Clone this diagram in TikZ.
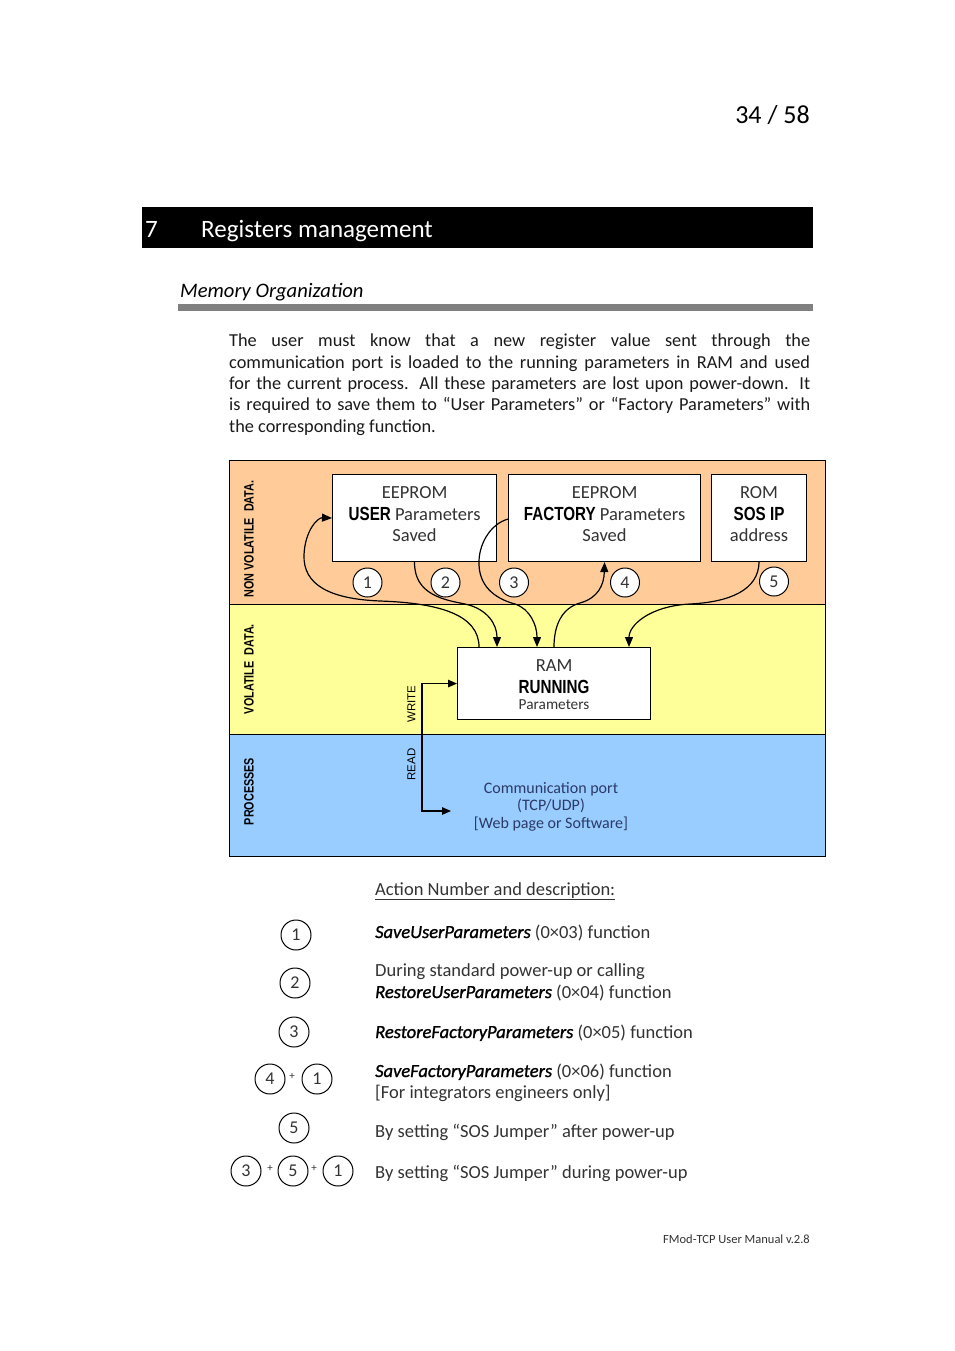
\documentclass[tikz,border=0pt]{standalone}
\usepackage{fontspec}
\setmainfont{Carlito}
\newfontfamily\nbfont{Liberation Sans}[FakeStretch=0.8]
\newfontfamily\arfont{Liberation Sans}
\newfontfamily\itbfont{Carlito}[FakeBold=1.2]
\usetikzlibrary{arrows.meta,calc}
\definecolor{bandorange}{HTML}{FFCC99}
\definecolor{bandyellow}{HTML}{FFFF99}
\definecolor{bandblue}{HTML}{99CCFF}
\definecolor{rulegray}{HTML}{808080}
\definecolor{txt}{HTML}{1A1A1A}
\definecolor{boxtxt}{HTML}{333333}
\definecolor{navy}{HTML}{2B3A67}
\newcommand\fsz[2]{\fontsize{#1pt}{#2pt}\selectfont}
\newcommand\fname[1]{{\itbfont\itshape\color{black}#1}}
\begin{document}
\begin{tikzpicture}[x=1pt,y=-1pt,
  every node/.style={inner sep=0pt,text=txt},
  memb/.style={draw,fill=white,line width=1.1pt,inner sep=0pt,anchor=north west},
  boxline/.style={anchor=base,text=boxtxt,font={\fsz{18.5}{21}}},
  boldline/.style={anchor=base,text=black,font={\fsz{19}{21}\nbfont\bfseries}},
  numc/.style={circle,draw,fill=white,line width=1pt,minimum size=29pt,inner sep=0pt,text=boxtxt,font={\fsz{18}{20}}},
  legc/.style={numc,minimum size=30pt},
  flow/.style={line width=1.2pt,-{Triangle[length=10pt,width=8pt]}},
  rwflow/.style={line width=1.2pt,{Triangle[length=9pt,width=7.5pt]}-{Triangle[length=9pt,width=7.5pt]}},
  bandlbl/.style={rotate=90,anchor=center,text=black,font={\fsz{13.5}{15}\nbfont\bfseries}},
  rwlbl/.style={rotate=90,anchor=center,text=black,font={\fsz{11.5}{13}\arfont}},
  body/.style={anchor=base west,font={\fsz{18.3}{21.5}}},
  legt/.style={anchor=base west,text=boxtxt,font={\fsz{18.5}{21}}},
  plus/.style={text=boxtxt,font={\fsz{11}{12}}}
]
\useasboundingbox (0,0) rectangle (954,1351);
\fill[white] (0,0) rectangle (954,1351);

% header
\node[anchor=base east,font={\fsz{26}{28}},text=black] (pnum) at (810,124) {34 / 58};
\node[fill=black,minimum width=671pt,minimum height=41pt,anchor=north west] (bar) at (142,207) {};
\node[anchor=base west,text=white,font={\fsz{25}{28}}] (secnum) at (145,237) {7};
\node[anchor=base west,text=white,font={\fsz{25}{28}}] (sectitle) at (201,237) {Registers management};
\node[anchor=base west,text=black,font={\fsz{20.6}{24}\itshape}] (subtitle) at (180,297) {Memory Organization};
\fill[rulegray] (178,304) rectangle (813,311);

% paragraph
\node[body] (p1) at (229,346) {\makebox[581pt][s]{The user must know that a new register value sent through the}};
\node[body] (p2) at (229,368) {\makebox[581pt][s]{communication port is loaded to the running parameters in RAM and used}};
\node[body] (p3) at (229,389) {\makebox[581pt][s]{for the current process. All these parameters are lost upon power-down. It}};
\node[body] (p4) at (229,410) {\makebox[581pt][s]{is required to save them to “User Parameters” or “Factory Parameters” with}};
\node[body] (p5) at (229,432) {the corresponding function.};

% bands
\fill[bandorange] (229,460) rectangle (825,604);
\fill[bandyellow] (229,604) rectangle (825,734);
\fill[bandblue] (229,734) rectangle (825,856);
\draw[line width=1pt] (229,604) -- (825,604);
\draw[line width=1pt] (229,734) -- (825,734);
\draw[line width=1pt] (229,460) rectangle (825,856);

\node[bandlbl] (lblnv) at (249,539) {NON VOLATILE\hspace{3pt} DATA.};
\node[bandlbl] (lblv) at (249,669) {VOLATILE\hspace{3pt} DATA.};
\node[bandlbl] (lblp) at (249,791.5) {PROCESSES};

% memory boxes
\node[memb,minimum width=164pt,minimum height=87pt] (user) at (332,474) {};
\node[memb,minimum width=192pt,minimum height=87pt] (factory) at (508,474) {};
\node[memb,minimum width=95pt,minimum height=87pt] (rom) at (711,474) {};
\node[memb,minimum width=193pt,minimum height=72pt] (ram) at (457,647) {};

\node[boxline] (u1) at ($(user.north)+(0,24)$) {EEPROM};
\node[boxline] (u2) at ($(user.north)+(0,46)$) {{\nbfont\fsz{19}{21}\bfseries\color{black}USER} Parameters};
\node[boxline] (u3) at ($(user.north)+(0,67)$) {Saved};
\node[boxline] (f1) at ($(factory.north)+(0,24)$) {EEPROM};
\node[boxline] (f2) at ($(factory.north)+(0,46)$) {{\nbfont\fsz{19}{21}\bfseries\color{black}FACTORY} Parameters};
\node[boxline] (f3) at ($(factory.north)+(0,67)$) {Saved};
\node[boxline] (r1) at ($(rom.north)+(0,24)$) {ROM};
\node[boldline] (r2) at ($(rom.north)+(0,46)$) {SOS IP};
\node[boxline] (r3) at ($(rom.north)+(0,67)$) {address};
\node[boxline] (m1) at ($(ram.north)+(0,24)$) {RAM};
\node[boldline] (m2) at ($(ram.north)+(0,46)$) {RUNNING};
\node[boxline,font={\fsz{15.3}{17}}] (m3) at ($(ram.north)+(0,62)$) {Parameters};

% flows
\draw[flow] ($(ram.north west)+(22,0)$) .. controls (479,615) and (440,603) .. (380,601)
   .. controls (330,599) and (303,585) .. (304,555)
   .. controls (305,530) and (318,517.5) .. (user.west);
\draw[flow] (user.south) .. controls (414,595) and (445,600) .. (465,604)
   .. controls (488,609) and (497,625) .. ($(ram.north west)+(40,0)$);
\draw[flow] ($(factory.west)+(0,1)$) .. controls (490,524) and (478,545) .. (479,565)
   .. controls (480,590) and (500,600) .. (515,604)
   .. controls (530,609) and (537,625) .. ($(ram.north west)+(80,0)$);
\draw[flow] ($(ram.north west)+(97,0)$) .. controls (554,625) and (562,608) .. (580,603)
   .. controls (598,598) and (604,585) .. (factory.south);
\draw[flow] (rom.south) .. controls (758.5,590) and (730,602) .. (690,604)
   .. controls (650,606) and (629,625) .. ($(ram.north west)+(172,0)$);

% action circles in diagram
\node[numc] (c1) at (367.5,582.5) {1};
\node[numc] (c2) at (445.5,582.5) {2};
\node[numc] (c3) at (514,582.5) {3};
\node[numc] (c4) at (625,582.5) {4};
\node[numc] (c5) at (774,581.5) {5};

% read / write
\coordinate (rdcorner) at (422,811);
\coordinate (readtip) at (451,811);
\draw[rwflow] (readtip) -- (rdcorner) -- (rdcorner |- ram.west) -- (ram.west);
\node[rwlbl] (wlbl) at (411.5,704) {WRITE};
\node[rwlbl] (rlbl) at (411.5,764.5) {READ};

\node[anchor=base,text=navy,font={\fsz{16}{17.5}}] (comm1) at (551,793) {Communication port};
\node[anchor=base,text=navy,font={\fsz{16}{17.5}}] (comm2) at (551,810.5) {(TCP/UDP)};
\node[anchor=base,text=navy,font={\fsz{16}{17.5}}] (comm3) at (551,828) {[Web page or Software]};

% legend
\node[legt] (lhead) at (375,895) {\underline{Action Number and description:}};
\node[legc] (l1) at (296,935) {1};
\node[legt] (t1) at (375,938) {\fname{SaveUserParameters} (0×03) function};
\node[legc] (l2) at (295,983) {2};
\node[legt] (t2a) at (375,976) {During standard power-up or calling};
\node[legt] (t2b) at (375,998) {\fname{RestoreUserParameters} (0×04) function};
\node[legc] (l3) at (294,1032) {3};
\node[legt] (t3) at (375,1038) {\fname{RestoreFactoryParameters} (0×05) function};
\node[legc] (l4a) at (270,1079) {4};
\node[plus] (p4p) at (292,1076) {+};
\node[legc] (l4b) at (317,1079) {1};
\node[legt] (t4a) at (375,1077) {\fname{SaveFactoryParameters} (0×06) function};
\node[legt] (t4b) at (375,1098) {[For integrators engineers only]};
\node[legc] (l5) at (294,1128) {5};
\node[legt] (t5) at (375,1137) {By setting “SOS Jumper” after power-up};
\node[legc] (l6a) at (246,1171) {3};
\node[plus] (p6a) at (270,1168) {+};
\node[legc] (l6b) at (293,1171) {5};
\node[plus] (p6b) at (314,1168) {+};
\node[legc] (l6c) at (338,1171) {1};
\node[legt] (t6) at (375,1178) {By setting “SOS Jumper” during power-up};

% footer
\node[anchor=base east,text=boxtxt,font={\fsz{12.5}{14}}] (footer) at (810,1243) {FMod-TCP User Manual v.2.8};
\end{tikzpicture}
\end{document}
